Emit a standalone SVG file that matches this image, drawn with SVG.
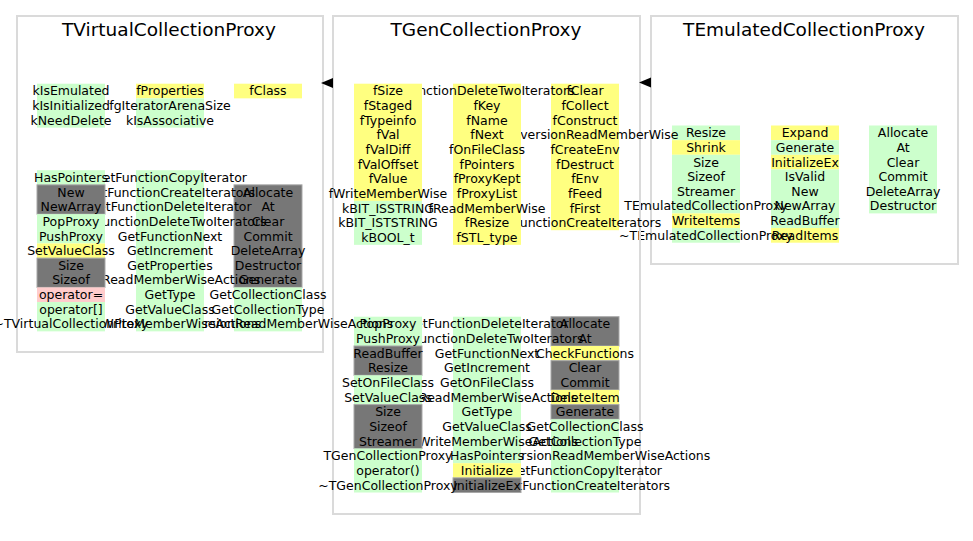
<svg xmlns="http://www.w3.org/2000/svg" width="973" height="541" viewBox="0 0 973 541">
<style>
.box{fill:none;stroke:#dadada;stroke-width:2}
.t{font-family:"DejaVu Sans",sans-serif;font-size:12.5px;text-anchor:middle;fill:#000}
.ti{font-family:"DejaVu Sans",sans-serif;font-size:18.5px;text-anchor:middle;fill:#000}
.g{fill:#ccffcc}
.y{fill:#ffff80}
.p{fill:#ffcccc}
.k{fill:#777777;stroke:#a8a8a8;stroke-width:1}
.arr{fill:#000}
</style>
<rect x="0" y="0" width="973" height="541" fill="#fff"/>

<g id="TEmulatedCollectionProxy">
<rect class="box" x="651" y="16" width="307" height="248"/>
<text class="ti" x="804" y="36">TEmulatedCollectionProxy</text>
<!-- col3 -->
<rect class="g" x="869" y="125.5" width="68" height="87.9"/>
<text class="t" x="903" y="137.2">Allocate</text>
<text class="t" x="903" y="151.85">At</text>
<text class="t" x="903" y="166.5">Clear</text>
<text class="t" x="903" y="181.15">Commit</text>
<text class="t" x="903" y="195.8">DeleteArray</text>
<text class="t" x="903" y="210.45">Destructor</text>
<!-- col2 -->
<rect class="y" x="771" y="125.5" width="68" height="14.65"/>
<rect class="g" x="771" y="140.15" width="68" height="14.65"/>
<rect class="y" x="771" y="154.8" width="68" height="14.65"/>
<rect class="g" x="771" y="169.45" width="68" height="58.6"/>
<rect class="y" x="771" y="228.05" width="68" height="14.65"/>
<text class="t" x="805" y="137.2">Expand</text>
<text class="t" x="805" y="151.85">Generate</text>
<text class="t" x="805" y="166.5">InitializeEx</text>
<text class="t" x="805" y="181.15">IsValid</text>
<text class="t" x="805" y="195.8">New</text>
<text class="t" x="805" y="210.45">NewArray</text>
<text class="t" x="805" y="225.1">ReadBuffer</text>
<text class="t" x="805" y="239.75">ReadItems</text>
<!-- col1 -->
<rect class="g" x="672" y="125.5" width="68" height="14.65"/>
<rect class="y" x="672" y="140.15" width="68" height="14.65"/>
<rect class="g" x="672" y="154.8" width="68" height="58.6"/>
<rect class="y" x="672" y="213.4" width="68" height="14.65"/>
<rect class="g" x="672" y="228.05" width="68" height="14.65"/>
<text class="t" x="706" y="137.2">Resize</text>
<text class="t" x="706" y="151.85">Shrink</text>
<text class="t" x="706" y="166.5">Size</text>
<text class="t" x="706" y="181.15">Sizeof</text>
<text class="t" x="706" y="195.8">Streamer</text>
<text class="t" x="706" y="210.45">TEmulatedCollectionProxy</text>
<text class="t" x="706" y="225.1">WriteItems</text>
<text class="t" x="706" y="239.75">~TEmulatedCollectionProxy</text>
</g>

<g id="TGenCollectionProxy">
<rect class="box" x="333" y="16" width="307" height="498"/>
<text class="ti" x="486" y="36">TGenCollectionProxy</text>
<!-- attributes col3 -->
<rect class="y" x="551" y="83.7" width="68" height="146.5"/>
<text class="t" x="585" y="95.4">fClear</text>
<text class="t" x="585" y="110.05">fCollect</text>
<text class="t" x="585" y="124.7">fConstruct</text>
<text class="t" x="585" y="139.35">fConversionReadMemberWise</text>
<text class="t" x="585" y="154">fCreateEnv</text>
<text class="t" x="585" y="168.65">fDestruct</text>
<text class="t" x="585" y="183.3">fEnv</text>
<text class="t" x="585" y="197.95">fFeed</text>
<text class="t" x="585" y="212.6">fFirst</text>
<text class="t" x="585" y="227.25">fFunctionCreateIterators</text>
<!-- attributes col2 -->
<rect class="y" x="453" y="83.7" width="68" height="161.15"/>
<text class="t" x="487" y="95.4">fFunctionDeleteTwoIterators</text>
<text class="t" x="487" y="110.05">fKey</text>
<text class="t" x="487" y="124.7">fName</text>
<text class="t" x="487" y="139.35">fNext</text>
<text class="t" x="487" y="154">fOnFileClass</text>
<text class="t" x="487" y="168.65">fPointers</text>
<text class="t" x="487" y="183.3">fProxyKept</text>
<text class="t" x="487" y="197.95">fProxyList</text>
<text class="t" x="487" y="212.6">fReadMemberWise</text>
<text class="t" x="487" y="227.25">fResize</text>
<text class="t" x="487" y="241.9">fSTL_type</text>
<!-- attributes col1 -->
<rect class="y" x="354" y="83.7" width="68" height="117.2"/>
<rect class="g" x="354" y="200.9" width="68" height="43.95"/>
<text class="t" x="388" y="95.4">fSize</text>
<text class="t" x="388" y="110.05">fStaged</text>
<text class="t" x="388" y="124.7">fTypeinfo</text>
<text class="t" x="388" y="139.35">fVal</text>
<text class="t" x="388" y="154">fValDiff</text>
<text class="t" x="388" y="168.65">fValOffset</text>
<text class="t" x="388" y="183.3">fValue</text>
<text class="t" x="388" y="197.95">fWriteMemberWise</text>
<text class="t" x="388" y="212.6">kBIT_ISSTRING</text>
<text class="t" x="388" y="227.25">kBIT_ISTSTRING</text>
<text class="t" x="388" y="241.9">kBOOL_t</text>
<!-- methods col3 -->
<rect class="k" x="551" y="316.7" width="68" height="29.3"/>
<rect class="y" x="551" y="346" width="68" height="14.65"/>
<rect class="k" x="551" y="360.65" width="68" height="29.3"/>
<rect class="y" x="551" y="389.95" width="68" height="14.65"/>
<rect class="k" x="551" y="404.6" width="68" height="14.65"/>
<rect class="g" x="551" y="419.25" width="68" height="73.25"/>
<text class="t" x="585" y="328.4">Allocate</text>
<text class="t" x="585" y="343.05">At</text>
<text class="t" x="585" y="357.7">CheckFunctions</text>
<text class="t" x="585" y="372.35">Clear</text>
<text class="t" x="585" y="387">Commit</text>
<text class="t" x="585" y="401.65">DeleteItem</text>
<text class="t" x="585" y="416.3">Generate</text>
<text class="t" x="585" y="430.95">GetCollectionClass</text>
<text class="t" x="585" y="445.6">GetCollectionType</text>
<text class="t" x="585" y="460.25">GetConversionReadMemberWiseActions</text>
<text class="t" x="585" y="474.9">GetFunctionCopyIterator</text>
<text class="t" x="585" y="489.55">GetFunctionCreateIterators</text>
<!-- methods col2 -->
<rect class="g" x="453" y="316.7" width="68" height="146.5"/>
<rect class="y" x="453" y="463.2" width="68" height="14.65"/>
<rect class="k" x="453" y="477.85" width="68" height="14.65"/>
<text class="t" x="487" y="328.4">GetFunctionDeleteIterator</text>
<text class="t" x="487" y="343.05">GetFunctionDeleteTwoIterators</text>
<text class="t" x="487" y="357.7">GetFunctionNext</text>
<text class="t" x="487" y="372.35">GetIncrement</text>
<text class="t" x="487" y="387">GetOnFileClass</text>
<text class="t" x="487" y="401.65">GetReadMemberWiseActions</text>
<text class="t" x="487" y="416.3">GetType</text>
<text class="t" x="487" y="430.95">GetValueClass</text>
<text class="t" x="487" y="445.6">GetWriteMemberWiseActions</text>
<text class="t" x="487" y="460.25">HasPointers</text>
<text class="t" x="487" y="474.9">Initialize</text>
<text class="t" x="487" y="489.55">InitializeEx</text>
<!-- methods col1 -->
<rect class="g" x="354" y="316.7" width="68" height="29.3"/>
<rect class="k" x="354" y="346" width="68" height="29.3"/>
<rect class="g" x="354" y="375.3" width="68" height="29.3"/>
<rect class="k" x="354" y="404.6" width="68" height="43.95"/>
<rect class="g" x="354" y="448.55" width="68" height="43.95"/>
<text class="t" x="388" y="328.4">PopProxy</text>
<text class="t" x="388" y="343.05">PushProxy</text>
<text class="t" x="388" y="357.7">ReadBuffer</text>
<text class="t" x="388" y="372.35">Resize</text>
<text class="t" x="388" y="387">SetOnFileClass</text>
<text class="t" x="388" y="401.65">SetValueClass</text>
<text class="t" x="388" y="416.3">Size</text>
<text class="t" x="388" y="430.95">Sizeof</text>
<text class="t" x="388" y="445.6">Streamer</text>
<text class="t" x="388" y="460.25">TGenCollectionProxy</text>
<text class="t" x="388" y="474.9">operator()</text>
<text class="t" x="388" y="489.55">~TGenCollectionProxy</text>
</g>

<g id="TVirtualCollectionProxy">
<rect class="box" x="17" y="16" width="306" height="336"/>
<text class="ti" x="169" y="36">TVirtualCollectionProxy</text>
<!-- attributes col3 -->
<rect class="y" x="234" y="83.7" width="68" height="14.65"/>
<text class="t" x="268" y="95.4">fClass</text>
<!-- attributes col2 -->
<rect class="y" x="136" y="83.7" width="68" height="14.65"/>
<rect class="g" x="136" y="98.35" width="68" height="29.3"/>
<text class="t" x="170" y="95.4">fProperties</text>
<text class="t" x="170" y="110.05">fgIteratorArenaSize</text>
<text class="t" x="170" y="124.7">kIsAssociative</text>
<!-- attributes col1 -->
<rect class="g" x="37" y="83.7" width="68" height="43.95"/>
<text class="t" x="71" y="95.4">kIsEmulated</text>
<text class="t" x="71" y="110.05">kIsInitialized</text>
<text class="t" x="71" y="124.7">kNeedDelete</text>
<!-- methods col3 -->
<rect class="k" x="234" y="184.85" width="68" height="102.55"/>
<rect class="g" x="234" y="287.4" width="68" height="43.95"/>
<text class="t" x="268" y="196.55">Allocate</text>
<text class="t" x="268" y="211.2">At</text>
<text class="t" x="268" y="225.85">Clear</text>
<text class="t" x="268" y="240.5">Commit</text>
<text class="t" x="268" y="255.15">DeleteArray</text>
<text class="t" x="268" y="269.8">Destructor</text>
<text class="t" x="268" y="284.45">Generate</text>
<text class="t" x="268" y="299.1">GetCollectionClass</text>
<text class="t" x="268" y="313.75">GetCollectionType</text>
<text class="t" x="268" y="328.4">GetConversionReadMemberWiseActions</text>
<!-- methods col2 -->
<rect class="g" x="136" y="170.2" width="68" height="161.15"/>
<text class="t" x="170" y="181.9">GetFunctionCopyIterator</text>
<text class="t" x="170" y="196.55">GetFunctionCreateIterators</text>
<text class="t" x="170" y="211.2">GetFunctionDeleteIterator</text>
<text class="t" x="170" y="225.85">GetFunctionDeleteTwoIterators</text>
<text class="t" x="170" y="240.5">GetFunctionNext</text>
<text class="t" x="170" y="255.15">GetIncrement</text>
<text class="t" x="170" y="269.8">GetProperties</text>
<text class="t" x="170" y="284.45">GetReadMemberWiseActions</text>
<text class="t" x="170" y="299.1">GetType</text>
<text class="t" x="170" y="313.75">GetValueClass</text>
<text class="t" x="170" y="328.4">GetWriteMemberWiseActions</text>
<!-- methods col1 -->
<rect class="g" x="37" y="170.2" width="68" height="14.65"/>
<rect class="k" x="37" y="184.85" width="68" height="29.3"/>
<rect class="g" x="37" y="214.15" width="68" height="29.3"/>
<rect class="y" x="37" y="243.45" width="68" height="14.65"/>
<rect class="k" x="37" y="258.1" width="68" height="29.3"/>
<rect class="p" x="37" y="287.4" width="68" height="14.65"/>
<rect class="g" x="37" y="302.05" width="68" height="29.3"/>
<text class="t" x="71" y="181.9">HasPointers</text>
<text class="t" x="71" y="196.55">New</text>
<text class="t" x="71" y="211.2">NewArray</text>
<text class="t" x="71" y="225.85">PopProxy</text>
<text class="t" x="71" y="240.5">PushProxy</text>
<text class="t" x="71" y="255.15">SetValueClass</text>
<text class="t" x="71" y="269.8">Size</text>
<text class="t" x="71" y="284.45">Sizeof</text>
<text class="t" x="71" y="299.1">operator=</text>
<text class="t" x="71" y="313.75">operator[]</text>
<text class="t" x="71" y="328.4">~TVirtualCollectionProxy</text>
</g>

<g id="connectors">
<polygon class="arr" points="321,83 333,78 333,88"/>
<polygon class="arr" points="639,82.5 651,77.5 651,87.5"/>
</g>
</svg>
